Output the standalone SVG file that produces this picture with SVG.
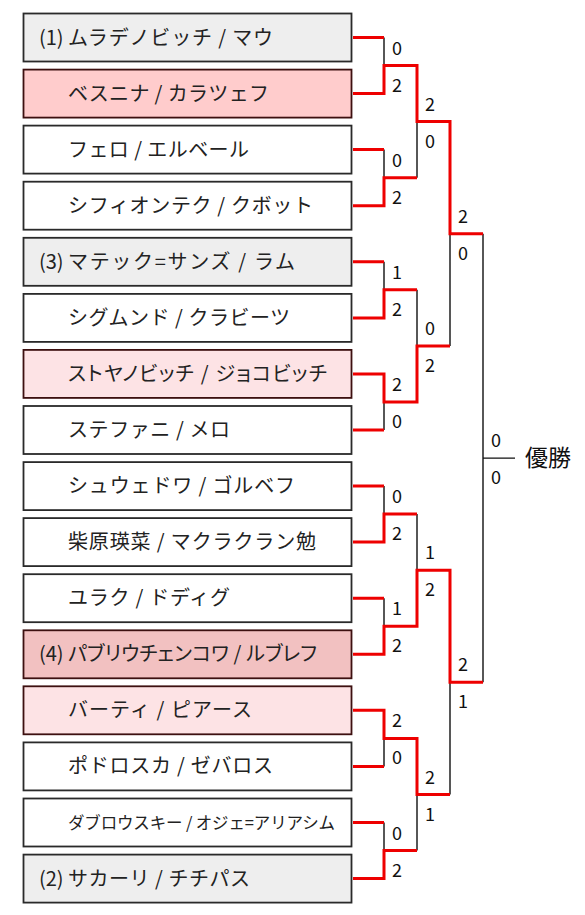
<svg xmlns="http://www.w3.org/2000/svg" width="585" height="915" viewBox="0 0 585 915">
<style>
.box{stroke:#2a2a2a;stroke-width:1.8}
.pk{stroke:#3d1010}
.w{fill:#ffffff}.g{fill:#eeeeee}.p1{fill:#ffcccc}.p2{fill:#fde3e5}.p3{fill:#f2c1c1}
.nm{font-family:"Noto Sans CJK JP","Noto Sans",sans-serif;font-size:20px;fill:#222}
.pa{font-feature-settings:"palt" 1}
.sm{font-size:16.5px}
.sc{font-family:"Noto Sans CJK JP","Open Sans",sans-serif;font-size:18px;fill:#111}
.ln{fill:none;stroke:#111;stroke-width:1.4}
.rd{fill:none;stroke:#ee0000;stroke-width:3;stroke-linejoin:miter}
.ttl{font-family:"Noto Sans CJK JP",sans-serif;font-size:23px;fill:#111}
</style>
<g id="teams">
<g id="t1"><rect class="box g" x="23.5" y="13.5" width="328" height="48"/><text class="nm" y="44.5"><tspan x="39">(1) </tspan><tspan x="68" textLength="205" lengthAdjust="spacing">ムラデノビッチ / マウ</tspan></text></g>
<g id="t2"><rect class="box pk p1" x="23.5" y="69.6" width="328" height="48"/><text class="nm" x="68" y="100.6" textLength="201" lengthAdjust="spacing">ベスニナ / カラツェフ</text></g>
<g id="t3"><rect class="box w" x="23.5" y="125.6" width="328" height="48"/><text class="nm" x="68" y="156.6" textLength="181" lengthAdjust="spacing">フェロ / エルベール</text></g>
<g id="t4"><rect class="box w" x="23.5" y="181.7" width="328" height="48"/><text class="nm" x="68" y="212.7" textLength="245" lengthAdjust="spacing">シフィオンテク / クボット</text></g>
<g id="t5"><rect class="box g" x="23.5" y="237.8" width="328" height="48"/><text class="nm" y="268.8"><tspan x="39">(3) </tspan><tspan x="68" textLength="227" lengthAdjust="spacing">マテック=サンズ / ラム</tspan></text></g>
<g id="t6"><rect class="box w" x="23.5" y="293.9" width="328" height="48"/><text class="nm" x="68" y="324.9" textLength="222" lengthAdjust="spacing">シグムンド / クラビーツ</text></g>
<g id="t7"><rect class="box pk p2" x="23.5" y="349.9" width="328" height="48"/><text class="nm pa" x="68" y="380.9" textLength="259" lengthAdjust="spacing">ストヤノビッチ / ジョコビッチ</text></g>
<g id="t8"><rect class="box w" x="23.5" y="406.0" width="328" height="48"/><text class="nm" x="68" y="437.0" textLength="162" lengthAdjust="spacing">ステファニ / メロ</text></g>
<g id="t9"><rect class="box w" x="23.5" y="462.1" width="328" height="48"/><text class="nm" x="68" y="493.1" textLength="227" lengthAdjust="spacing">シュウェドワ / ゴルベフ</text></g>
<g id="t10"><rect class="box w" x="23.5" y="518.1" width="328" height="48"/><text class="nm" x="68" y="549.1" textLength="248" lengthAdjust="spacing">柴原瑛菜 / マクラクラン勉</text></g>
<g id="t11"><rect class="box w" x="23.5" y="574.2" width="328" height="48"/><text class="nm" x="68" y="605.2" textLength="162" lengthAdjust="spacing">ユラク / ドディグ</text></g>
<g id="t12"><rect class="box pk p3" x="23.5" y="630.3" width="328" height="48"/><text class="nm pa" y="661.3"><tspan x="39">(4) </tspan><tspan x="68" textLength="249" lengthAdjust="spacing">パブリウチェンコワ / ルブレフ</tspan></text></g>
<g id="t13"><rect class="box pk p2" x="23.5" y="686.3" width="328" height="48"/><text class="nm" x="68" y="717.3" textLength="184" lengthAdjust="spacing">バーティ / ピアース</text></g>
<g id="t14"><rect class="box w" x="23.5" y="742.4" width="328" height="48"/><text class="nm" x="68" y="773.4" textLength="205" lengthAdjust="spacing">ポドロスカ / ゼバロス</text></g>
<g id="t15"><rect class="box w" x="23.5" y="798.5" width="328" height="48"/><text class="nm sm" x="68" y="828.5" textLength="267" lengthAdjust="spacing">ダブロウスキー / オジェ=アリアシム</text></g>
<g id="t16"><rect class="box g" x="23.5" y="854.6" width="328" height="48"/><text class="nm" y="885.6"><tspan x="39">(2) </tspan><tspan x="68" textLength="182" lengthAdjust="spacing">サカーリ / チチパス</tspan></text></g>
</g>
<g id="champion"><text class="ttl" x="525" y="466">優勝</text></g>
<g id="connectors">
<path class="ln" d="M384 37.5V65.5M384 149.6V177.7M384 261.8V289.8M384 430V402M384 486.1V514.1M384 598.2V626.2M384 766.4V738.4M384 822.5V850.5M417 121.6V177.7M417 289.8V345.9M417 514.1V570.2M417 794.5V850.5M450 233.8V345.9M450 682.3V794.5M483 233.8V682.3M483 458.1H515"/>
<path class="rd" d="M353 37.5H384M353 149.6H384M353 261.8H384M353 430H384M353 486.1H384M353 598.2H384M353 766.4H384M353 822.5H384"/>
<path class="rd" d="M353 93.6H384V65.5H417V121.6H450V233.8H483"/>
<path class="rd" d="M353 205.7H384V177.7H417"/>
<path class="rd" d="M353 317.9H384V289.8H417"/>
<path class="rd" d="M353 373.9H384V402H417V345.9H450"/>
<path class="rd" d="M353 542.1H384V514.1H417"/>
<path class="rd" d="M353 654.3H384V626.2H417V570.2H450V682.3H483"/>
<path class="rd" d="M353 710.3H384V738.4H417V794.5H450"/>
<path class="rd" d="M353 878.6H384V850.5H417"/>
</g>
<g id="scores" class="sc">
<text x="392" y="54.5">0</text><text x="392" y="91.5">2</text>
<text x="392" y="166.7">0</text><text x="392" y="203.7">2</text>
<text x="392" y="278.8">1</text><text x="392" y="315.8">2</text>
<text x="392" y="391">2</text><text x="392" y="428">0</text>
<text x="392" y="503.1">0</text><text x="392" y="540.1">2</text>
<text x="392" y="615.2">1</text><text x="392" y="652.2">2</text>
<text x="392" y="727.4">2</text><text x="392" y="764.4">0</text>
<text x="392" y="839.5">0</text><text x="392" y="876.5">2</text>
<text x="425" y="110.6">2</text><text x="425" y="147.6">0</text>
<text x="425" y="334.9">0</text><text x="425" y="371.9">2</text>
<text x="425" y="559.2">1</text><text x="425" y="596.2">2</text>
<text x="425" y="783.5">2</text><text x="425" y="820.5">1</text>
<text x="458" y="222.8">2</text><text x="458" y="259.8">0</text>
<text x="458" y="671.3">2</text><text x="458" y="708.3">1</text>
<text x="491" y="447.1">0</text><text x="491" y="484.1">0</text>
</g>
</svg>
